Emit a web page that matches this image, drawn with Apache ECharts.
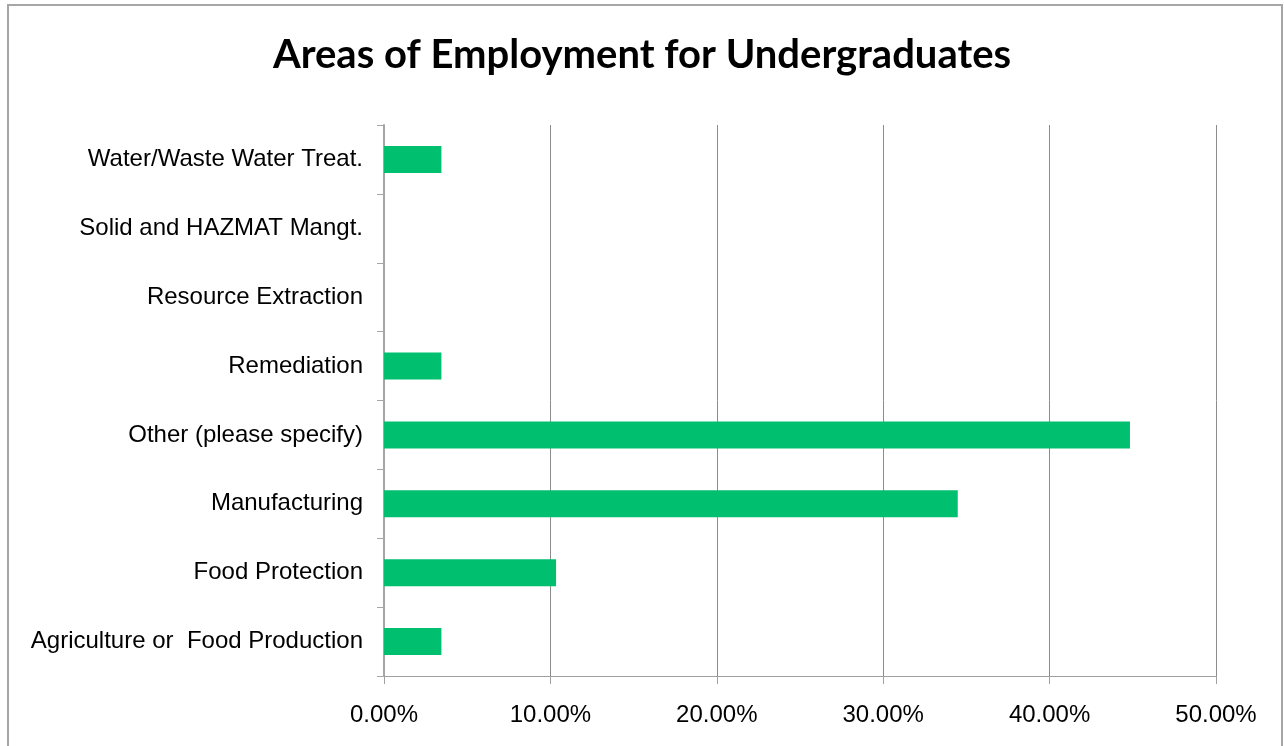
<!DOCTYPE html>
<html>
<head>
<meta charset="utf-8">
<script src="https://cdn.jsdelivr.net/npm/echarts@6/dist/echarts.min.js"></script>
<style>
  html, body { margin: 0; padding: 0; background: #fff; }
  #chart { width: 1284px; height: 746px; }
</style>
</head>
<body>
<div id="chart"></div>
<script>
// Employment areas, listed bottom to top as drawn on the category axis
const categories = [
  'Agriculture or  Food Production',
  'Food Protection',
  'Manufacturing',
  'Other (please specify)',
  'Remediation',
  'Resource Extraction',
  'Solid and HAZMAT Mangt.',
  'Water/Waste Water Treat.'
];
// Share of undergraduates in each area (%)
const shares = [3.45, 10.34, 34.48, 44.83, 3.45, 0, 0, 3.45];
const xTicks = { min: 0, max: 50, step: 10 };

const chart = echarts.init(document.getElementById('chart'), null, { renderer: 'canvas' });
chart.setOption({
  animation: false,
  backgroundColor: '#fff',
  title: {
    text: 'Areas of Employment for Undergraduates',
    left: 'center',
    top: 30,
    textStyle: { fontFamily: 'Lato', fontWeight: 'bold', fontSize: 40, color: '#000' }
  },
  graphic: [{
    type: 'rect',
    shape: { x: 8, y: 5, width: 1274, height: 800 },
    style: { fill: 'none', stroke: '#a6a6a6', lineWidth: 2 },
    silent: true
  }],
  grid: { left: 384, right: 68, top: 125, bottom: 70, containLabel: false },
  xAxis: {
    type: 'value',
    min: xTicks.min,
    max: xTicks.max,
    interval: xTicks.step,
    axisLine: { show: true, lineStyle: { color: '#a0a0a0', width: 1 } },
    axisTick: { show: true, length: 8, lineStyle: { color: '#a0a0a0' } },
    splitLine: { show: true, lineStyle: { color: '#8c8c8c', width: 1 } },
    axisLabel: {
      margin: 27,
      fontFamily: 'Liberation Sans',
      fontSize: 24,
      color: '#000',
      formatter: v => v.toFixed(2) + '%'
    }
  },
  yAxis: {
    type: 'category',
    data: categories,
    axisLine: { show: true, lineStyle: { color: '#a6a6a6', width: 2 } },
    axisTick: { show: true, length: 7, lineStyle: { color: '#a6a6a6', width: 1 } },
    axisLabel: {
      margin: 21,
      fontFamily: 'Liberation Sans',
      fontSize: 24,
      color: '#000'
    }
  },
  series: [{
    type: 'bar',
    data: shares,
    barWidth: 27,
    itemStyle: { color: '#00bf6f' }
  }]
});
</script>
</body>
</html>
